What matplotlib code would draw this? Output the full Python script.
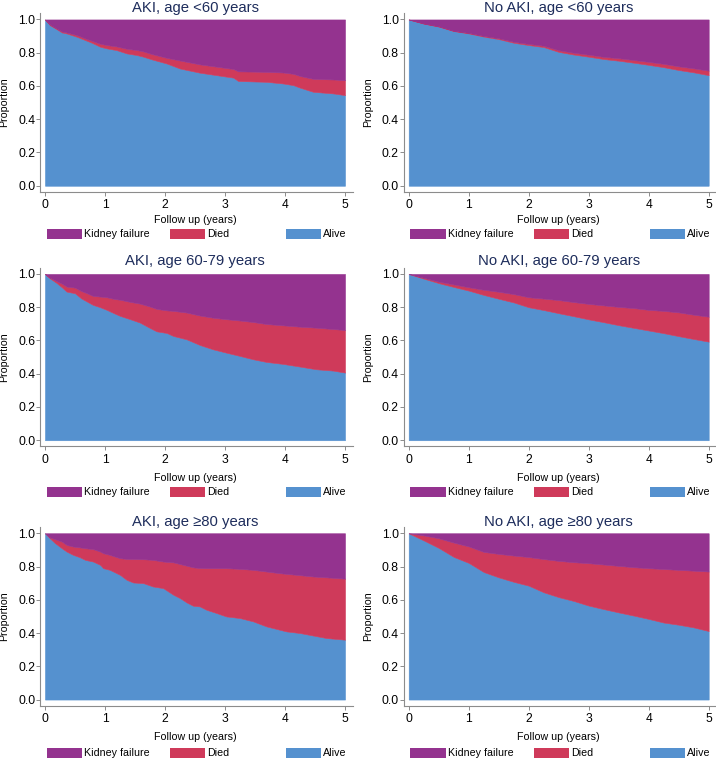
import numpy as np
import matplotlib.pyplot as plt
from matplotlib.patches import Rectangle

plt.rcParams['font.family'] = ['Liberation Sans', 'DejaVu Sans']

# ---------------------------------------------
#  Outcome proportions by AKI status and age
# ---------------------------------------------

state_names = ['Kidney failure', 'Died', 'Alive']
state_colors = ['#94338f', '#cf3a5a', '#5591cf']

titles = ['AKI, age <60 years', 'No AKI, age <60 years',
          'AKI, age 60-79 years', 'No AKI, age 60-79 years',
          'AKI, age \u226580 years', 'No AKI, age \u226580 years']

# AKI, age <60
t_aki_60 = [0, 0.08, 0.22, 0.28, 0.36, 0.53, 0.67, 0.78, 0.92, 1.03, 1.19, 1.36, 1.53, 1.64,
            1.78, 2.03, 2.25, 2.58, 2.86, 3.14, 3.22, 3.69, 3.97, 4.14, 4.25, 4.47, 4.81, 5.0]
alive_aki_60 = [1.0, 0.966, 0.936, 0.922, 0.916, 0.896, 0.876, 0.860, 0.836, 0.826, 0.816, 0.796,
                0.786, 0.776, 0.760, 0.735, 0.705, 0.680, 0.665, 0.650, 0.630, 0.625, 0.615,
                0.605, 0.590, 0.565, 0.555, 0.545]
died_aki_60 = [0, 0.004, 0.004, 0.006, 0.006, 0.010, 0.010, 0.012, 0.018, 0.020, 0.022, 0.028,
               0.030, 0.032, 0.032, 0.034, 0.048, 0.050, 0.051, 0.052, 0.058, 0.060, 0.066,
               0.068, 0.070, 0.078, 0.084, 0.090]

# AKI, age 60-79
t_aki_6079 = [0, 0.08, 0.2, 0.3, 0.36, 0.5, 0.6, 0.7, 0.8, 0.92, 1.03, 1.15, 1.25, 1.42, 1.58,
              1.75, 1.86, 2.03, 2.14, 2.36, 2.58, 2.8, 3.02, 3.25, 3.47, 3.69, 3.97, 4.25,
              4.52, 4.8, 5.0]
alive_aki_6079 = [1.0, 0.974, 0.944, 0.914, 0.894, 0.884, 0.854, 0.834, 0.814, 0.800, 0.784,
                  0.764, 0.748, 0.728, 0.708, 0.675, 0.655, 0.645, 0.627, 0.607, 0.573, 0.547,
                  0.527, 0.507, 0.487, 0.471, 0.459, 0.443, 0.427, 0.419, 0.407]
died_aki_6079 = [0, 0.004, 0.012, 0.024, 0.030, 0.034, 0.044, 0.050, 0.054, 0.064, 0.076,
                 0.086, 0.097, 0.104, 0.114, 0.129, 0.135, 0.136, 0.151, 0.161, 0.177, 0.190,
                 0.201, 0.213, 0.224, 0.228, 0.232, 0.240, 0.250, 0.250, 0.256]

# AKI, age >=80
t_aki_80 = [0, 0.08, 0.17, 0.28, 0.36, 0.47, 0.58, 0.67, 0.80, 0.92, 0.97, 1.08, 1.25, 1.36,
            1.47, 1.64, 1.80, 1.97, 2.14, 2.25, 2.36, 2.47, 2.58, 2.69, 2.86, 3.02, 3.25,
            3.47, 3.69, 3.91, 4.02, 4.25, 4.47, 4.69, 5.0]
alive_aki_80 = [1.0, 0.97, 0.94, 0.91, 0.89, 0.87, 0.856, 0.84, 0.83, 0.81, 0.79, 0.78, 0.75,
                0.72, 0.704, 0.70, 0.68, 0.67, 0.63, 0.61, 0.584, 0.564, 0.56, 0.54, 0.52,
                0.50, 0.49, 0.47, 0.44, 0.42, 0.41, 0.40, 0.385, 0.37, 0.36]
died_aki_80 = [0, 0.005, 0.024, 0.04, 0.04, 0.05, 0.059, 0.07, 0.075, 0.08, 0.09, 0.09, 0.10,
               0.126, 0.141, 0.144, 0.16, 0.16, 0.195, 0.205, 0.221, 0.231, 0.231, 0.25, 0.27,
               0.29, 0.296, 0.31, 0.33, 0.34, 0.346, 0.348, 0.355, 0.365, 0.367]

# No AKI panels (quarter-year grid)
t_grid = [0, 0.25, 0.5, 0.75, 1.0, 1.25, 1.5, 1.75, 2.0, 2.25, 2.5, 2.75, 3.0, 3.25, 3.5,
          3.75, 4.0, 4.25, 4.5, 4.75, 5.0]
alive_noaki_60 = [1.0, 0.975, 0.957, 0.930, 0.916, 0.897, 0.882, 0.860, 0.846, 0.834, 0.805,
                  0.789, 0.776, 0.762, 0.752, 0.740, 0.727, 0.713, 0.696, 0.682, 0.665]
died_noaki_60 = [0, 0.001, 0.002, 0.002, 0.003, 0.004, 0.005, 0.006, 0.007, 0.008, 0.010,
                 0.011, 0.012, 0.013, 0.015, 0.016, 0.018, 0.020, 0.022, 0.024, 0.027]
alive_noaki_6079 = [1.0, 0.972, 0.945, 0.922, 0.900, 0.874, 0.851, 0.829, 0.800, 0.783, 0.764,
                    0.746, 0.727, 0.710, 0.692, 0.676, 0.660, 0.644, 0.626, 0.609, 0.593]
died_noaki_6079 = [0, 0.005, 0.009, 0.015, 0.020, 0.031, 0.042, 0.050, 0.060, 0.069, 0.079,
                   0.085, 0.093, 0.101, 0.110, 0.119, 0.124, 0.134, 0.143, 0.146, 0.150]
alive_noaki_80 = [1.0, 0.957, 0.912, 0.858, 0.822, 0.767, 0.735, 0.708, 0.685, 0.645, 0.616,
                  0.593, 0.565, 0.544, 0.524, 0.505, 0.485, 0.463, 0.450, 0.434, 0.412]
died_noaki_80 = [0, 0.030, 0.058, 0.086, 0.099, 0.121, 0.141, 0.158, 0.172, 0.200, 0.218,
                 0.233, 0.255, 0.268, 0.280, 0.291, 0.305, 0.322, 0.330, 0.341, 0.358]

panels = [
    (t_aki_60, alive_aki_60, died_aki_60),
    (t_grid, alive_noaki_60, died_noaki_60),
    (t_aki_6079, alive_aki_6079, died_aki_6079),
    (t_grid, alive_noaki_6079, died_noaki_6079),
    (t_aki_80, alive_aki_80, died_aki_80),
    (t_grid, alive_noaki_80, died_noaki_80),
]

# Layout (pixels)
W, H = 716, 761
col_left = [40.2, 403.9]
ax_w = 312.6
row_top = [13.3, 267.8, 527.1]
ax_h = 178.6
title_gap = [5.0, 7.0, 5.5]
xlab_gap = [28.0, 31.3, 31.3]
leg_gap = [42.0, 45.6, 47.3]

axis_gray = '#8c8c8c'
title_color = '#1e2d5c'

fig = plt.figure(figsize=(W / 100, H / 100), dpi=100)

for k, (t, alive, died) in enumerate(panels):
    r, c = divmod(k, 2)
    ax = fig.add_axes([col_left[c] / W, 1 - (row_top[r] + ax_h) / H, ax_w / W, ax_h / H])

    t = np.array(t)
    alive = np.array(alive)
    top_died = alive + np.array(died)

    ax.fill_between(t, 0, alive, color=state_colors[2], edgecolor=state_colors[2], lw=0.4)
    ax.fill_between(t, alive, top_died, color=state_colors[1], edgecolor=state_colors[1], lw=0.4)
    ax.fill_between(t, top_died, 1, color=state_colors[0], edgecolor=state_colors[0], lw=0.4)

    ax.set_xlim(-0.08, 5.13)
    ax.set_ylim(-0.037, 1.037)
    ax.set_xticks([0, 1, 2, 3, 4, 5])
    ax.set_yticks([0, 0.2, 0.4, 0.6, 0.8, 1.0])
    ax.set_yticklabels(['0.0', '0.2', '0.4', '0.6', '0.8', '1.0'])

    for s in ['top', 'right']:
        ax.spines[s].set_visible(False)
    for s in ['left', 'bottom']:
        ax.spines[s].set_color(axis_gray)
        ax.spines[s].set_linewidth(0.8)
    ax.tick_params(axis='x', direction='out', length=3.2, width=0.7, color=axis_gray,
                   labelsize=8.7, pad=2)
    ax.tick_params(axis='y', direction='out', length=2.6, width=0.7, color=axis_gray,
                   labelsize=8.7, pad=1)

    ax.set_ylabel('Proportion', fontsize=7.7)
    ax.yaxis.set_label_coords(-31.0 / ax_w, 0.5)
    ax.set_xlabel('Follow up (years)', fontsize=7.7, va='center')
    ax.xaxis.set_label_coords((45 - col_left[0] + 150) / ax_w, -xlab_gap[r] / ax_h)

    trans = ax.get_xaxis_transform()
    ax.text(2.5, 1 + title_gap[r] / ax_h, titles[k], transform=trans, ha='center',
            va='center', fontsize=10.7, color=title_color)

    # legend keys
    box_h = 10 / ax_h
    y_leg = -leg_gap[r] / ax_h
    for x0, x1, xt, name, col in zip([0.03, 2.08, 4.02], [0.62, 2.67, 4.60],
                                     [0.65, 2.71, 4.64], state_names, state_colors):
        ax.add_patch(Rectangle((x0, y_leg - box_h / 2), x1 - x0, box_h, transform=trans,
                               facecolor=col, edgecolor='none', clip_on=False))
        ax.text(xt, y_leg, name, transform=trans, ha='left', va='center', fontsize=7.7)

fig.savefig('out.png', dpi=100)
